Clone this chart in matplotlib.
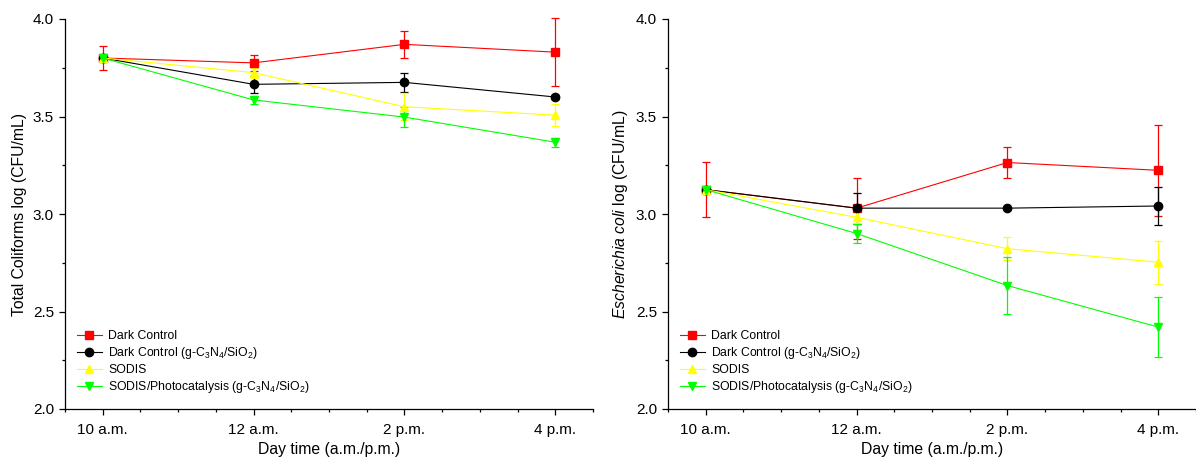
import matplotlib
matplotlib.use("Agg")
import matplotlib.pyplot as plt
from matplotlib.lines import Line2D
from matplotlib.ticker import MultipleLocator, FormatStrFormatter

plt.rcParams['font.family'] = ['Liberation Sans', 'DejaVu Sans']
plt.rcParams['mathtext.fontset'] = 'custom'
plt.rcParams['mathtext.rm'] = 'Liberation Sans'
plt.rcParams['mathtext.it'] = 'Liberation Sans:italic'

times = ["10 a.m.", "12 a.m.", "2 p.m.", "4 p.m."]
series_labels = ["Dark Control",
                 "Dark Control (g-C$_3$N$_4$/SiO$_2$)",
                 "SODIS",
                 "SODIS/Photocatalysis (g-C$_3$N$_4$/SiO$_2$)"]
colors = ["#FF0000", "#000000", "#FFFF00", "#00FF00"]
markers = ["s", "o", "^", "v"]

# Total coliforms (left panel)
tc_dark = [3.80, 3.775, 3.870, 3.830]
tc_dark_err = [0.062, 0.040, 0.068, 0.175]
tc_dark_cat = [3.80, 3.665, 3.675, 3.600]
tc_dark_cat_err = [0.0, 0.045, 0.047, 0.010]
tc_sodis = [3.80, 3.725, 3.550, 3.507]
tc_sodis_err = [0.0, 0.025, 0.070, 0.056]
tc_photo = [3.80, 3.585, 3.497, 3.368]
tc_photo_err = [0.0, 0.022, 0.050, 0.022]

# E. coli (right panel)
ec_dark = [3.125, 3.030, 3.264, 3.224]
ec_dark_err = [0.140, 0.157, 0.080, 0.233]
ec_dark_cat = [3.125, 3.030, 3.030, 3.041]
ec_dark_cat_err = [0.0, 0.080, 0.0, 0.095]
ec_sodis = [3.125, 2.983, 2.822, 2.753]
ec_sodis_err = [0.0, 0.030, 0.060, 0.110]
ec_photo = [3.125, 2.900, 2.633, 2.420]
ec_photo_err = [0.0, 0.050, 0.145, 0.155]

fig = plt.figure(figsize=(11.96, 4.59), dpi=100)
W, H = 1196, 459
ax1 = fig.add_axes([65 / W, (H - 409) / H, 528 / W, 390 / H])
ax2 = fig.add_axes([668 / W, (H - 409) / H, 528 / W, 390 / H])

x = list(range(len(times)))


def draw(ax, data, errs, ylabel):
    for vals, err, c, m in zip(data, errs, colors, markers):
        ax.errorbar(x, vals, yerr=err, color=c, marker=m, markersize=6,
                    linewidth=0.8, elinewidth=0.9, capsize=3, capthick=0.9,
                    clip_on=False)
    ax.set_xlim(-0.25, 3.25)
    ax.set_ylim(2.0, 4.0)
    ax.set_xticks(x)
    ax.set_xticklabels(times)
    ax.xaxis.set_minor_locator(MultipleLocator(0.25))
    ax.yaxis.set_major_locator(MultipleLocator(0.5))
    ax.yaxis.set_minor_locator(MultipleLocator(0.25))
    ax.yaxis.set_major_formatter(FormatStrFormatter('%.1f'))
    ax.spines['top'].set_visible(False)
    ax.spines['right'].set_visible(False)
    for s in ('left', 'bottom'):
        ax.spines[s].set_linewidth(0.9)
    ax.tick_params(which='major', direction='out', length=4.5, width=0.9,
                   labelsize=11)
    ax.tick_params(axis='x', which='major', pad=5.5)
    ax.tick_params(which='minor', direction='out', length=2.5, width=0.9)
    ax.set_xlabel("Day time (a.m./p.m.)", fontsize=11.3, labelpad=4)
    ax.set_ylabel(ylabel, fontsize=11.3, labelpad=4)
    handles = [Line2D([0], [0], color=c, marker=m, markersize=6, linewidth=0.8)
               for c, m in zip(colors, markers)]
    ax.legend(handles, series_labels, loc='lower left',
              bbox_to_anchor=(0.022, 0.035), frameon=False, fontsize=8.8,
              handlelength=2.1, handletextpad=0.5, labelspacing=0.25,
              borderpad=0, borderaxespad=0)


draw(ax1, [tc_dark, tc_dark_cat, tc_sodis, tc_photo],
     [tc_dark_err, tc_dark_cat_err, tc_sodis_err, tc_photo_err],
     "Total Coliforms log (CFU/mL)")
draw(ax2, [ec_dark, ec_dark_cat, ec_sodis, ec_photo],
     [ec_dark_err, ec_dark_cat_err, ec_sodis_err, ec_photo_err],
     "$\\it{Escherichia\\ coli}$ log (CFU/mL)")

fig.savefig("out.png", dpi=100)
